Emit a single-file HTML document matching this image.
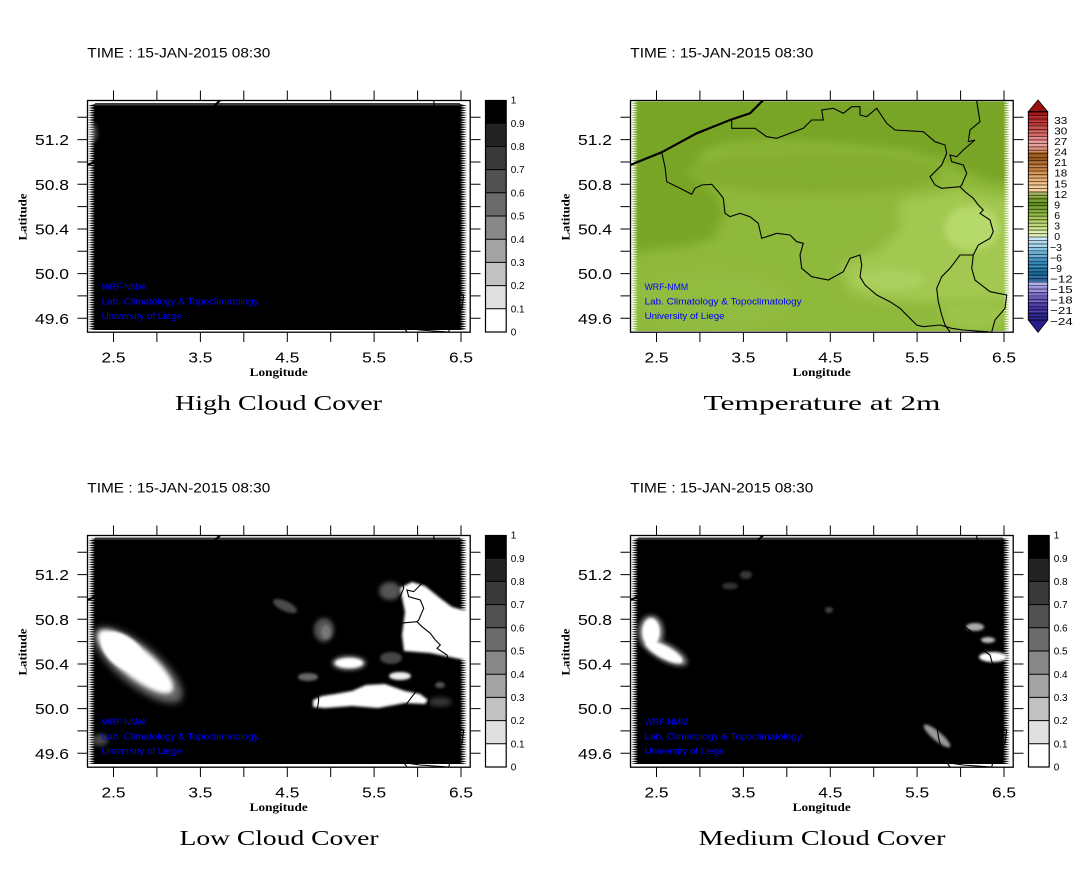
<!DOCTYPE html>
<html><head><meta charset="utf-8"><style>
html,body{margin:0;padding:0;background:#fff;}
svg{display:block;}
</style></head><body>
<svg width="1087" height="869" viewBox="0 0 1087 869" xmlns="http://www.w3.org/2000/svg" xmlns:xlink="http://www.w3.org/1999/xlink">
<defs>
  <pattern id="tL" x="88" y="0" width="7" height="2.4" patternUnits="userSpaceOnUse"><polygon points="0,0 7,1.2 0,2.4" fill="#fff"/></pattern>
  <pattern id="tR" x="460" y="0" width="7" height="2.4" patternUnits="userSpaceOnUse"><polygon points="7,0 0,1.2 7,2.4" fill="#fff"/></pattern>
  <pattern id="cbl" x="0" y="111.7" width="40" height="3.47" patternUnits="userSpaceOnUse"><rect width="40" height="0.8" fill="#000" fill-opacity="0.7"/></pattern>
  <filter id="f1" x="-50%" y="-50%" width="200%" height="200%"><feGaussianBlur stdDeviation="1.2"/></filter>
  <filter id="f2" x="-50%" y="-50%" width="200%" height="200%"><feGaussianBlur stdDeviation="2"/></filter>
  <filter id="f3" x="-50%" y="-50%" width="200%" height="200%"><feGaussianBlur stdDeviation="3.5"/></filter>
  <filter id="f5" x="-50%" y="-50%" width="200%" height="200%"><feGaussianBlur stdDeviation="5"/></filter>
  <clipPath id="tclip"><rect x="631" y="101.5" width="379" height="229.5"/></clipPath>
  <clipPath id="c2clip"><rect x="88" y="538.5" width="379" height="225.5"/></clipPath>
  <clipPath id="c3clip"><rect x="631" y="538.5" width="379" height="225.5"/></clipPath>
  <clipPath id="fclip"><rect x="87.5" y="100.5" width="382.7" height="231.7"/></clipPath>
  <g id="borders" fill="none" stroke="#000">
    <path stroke-width="2.2" d="M86,165.5 L118.7,152.3 L153.7,133.3 L187,120 L207,113.3 L220.3,100 L222,98"/>
    <path stroke-width="1.1" d="M118.7,152.3 L122,166.7 L123.7,181.7 L137,188.3 L148.7,194.3 L152,188.3 L158.7,185 L168.7,184.3 L175.3,191.7 L180.3,198.3 L182,213.3 L187,216.7 L197,213.3 L207,216.7 L215.3,223.3 L218.7,238.3 L223.7,236.7 L233.7,233.3 L247,235 L253.7,241.7 L260.3,243.3 L257,255 L258.7,268.3 L268.7,276.7 L285.3,280 L300.3,271.7 L307,258.3 L317,255 L318.7,265 L317,276.7 L322,285 L333.7,295 L347,301.7 L357,308.3 L373.7,325 L380.3,326.7 L397,325 L408.7,328.3 L420,330 L448.7,332"/>
    <path stroke-width="1.1" d="M188.7,120 L188.7,128.3 L202,128.3 L212,128.3 L223.7,136.7 L233.7,138.3 L260.3,128.3 L268.7,120 L280.3,120 L278.7,110 L290.3,108.3 L300.3,113.3 L308.7,106.7 L317,106.7 L317,115 L323.7,116.7 L333.7,108.3 L343.7,123.3 L352,130 L380.3,131.7 L392,141.7 L402,145 L403.7,153.3 L398.7,165 L387,176.7 L392,185 L398.7,188.3 L417,186.7 L422,191.7 L430.3,198.3 L435.3,205 L440.3,210 L437,213.3 L447,220 L450.3,231.7 L447,238.3 L435.3,245 L430.3,255 L428.7,268.3 L432,280 L447,291.7 L463.7,295 L462,308.3 L452,320 L448.7,332"/>
    <path stroke-width="1.1" d="M432,98 L433.7,101 L437,121.7 L427,130 L425.3,141.7 L432,140 L420.3,150 L413.7,156.7 L407,155 L408.7,161.7 L420.3,165 L423.7,173.3 L418.7,185 L417,186.7"/>
    <path stroke-width="1.1" d="M430.3,255 L417,255 L407,268.3 L398.7,276.7 L393.7,288.3 L395.3,301.7 L398.7,315 L402,325 L407,332"/>
  </g>
</defs>

<!-- ============ FIELDS ============ -->
<rect x="88" y="104" width="379" height="226" fill="#000"/>
<rect x="95" y="103" width="365" height="2.5" fill="#3a3a3a"/>
<ellipse cx="93" cy="133" rx="4" ry="9" fill="#555" filter="url(#f2)"/>

<g clip-path="url(#tclip)">
  <rect x="631" y="101.5" width="379" height="229.5" fill="#8fb93c"/>
  <polygon fill="#79a525" filter="url(#f5)" points="620,95 1020,95 1020,185 985,180 960,170 940,160 900,150 860,146 800,142 760,142 720,146 702,152 698,175 718,195 724,215 714,238 690,246 650,250 620,255"/>
  <ellipse cx="815" cy="172" rx="130" ry="22" fill="#83ad2d" filter="url(#f5)"/>
  <ellipse cx="760" cy="150" rx="40" ry="8" fill="#88b232" filter="url(#f3)"/>
  <ellipse cx="710" cy="300" rx="80" ry="30" fill="#92bc40" filter="url(#f5)"/>
  <polygon fill="#a2c851" filter="url(#f5)" points="900,200 960,190 1015,200 1015,300 960,302 930,302 880,300 850,292 840,265 880,250 900,230"/>
  <ellipse cx="972" cy="228" rx="28" ry="22" fill="#b6d96c" filter="url(#f3)"/>
  <ellipse cx="890" cy="280" rx="35" ry="10" fill="#acd05e" filter="url(#f3)"/>
  <ellipse cx="975" cy="315" rx="35" ry="15" fill="#9cc44a" filter="url(#f5)"/>
</g>

<rect x="88" y="538.5" width="379" height="225.5" fill="#000"/>
<rect x="95" y="537.5" width="365" height="2.5" fill="#333"/>
<g clip-path="url(#c2clip)">
  <g transform="rotate(39,138,665)">
    <ellipse cx="138" cy="665" rx="55" ry="20" fill="#666" filter="url(#f3)"/>
    <ellipse cx="134" cy="664" rx="47" ry="15" fill="#fff" filter="url(#f2)"/>
    <ellipse cx="118" cy="664" rx="25" ry="15" fill="#fff" filter="url(#f1)"/>
  </g>
  <ellipse cx="390" cy="591" rx="11" ry="9" fill="#555" filter="url(#f2)"/>
  <polygon fill="#fff" filter="url(#f1)" points="400,588 412,582 425,586 440,598 452,607 470,612 470,661 450,657 430,653 404,651 402,635 405,612"/>
  <polygon fill="#fff" filter="url(#f1)" points="313,700 322,696 335,694 352,691 366,685 385,684 405,691 420,694 428,700 425,704 405,703 378,708 352,706 325,708 313,707"/>
  <ellipse cx="349" cy="663" rx="17" ry="7" fill="#888" filter="url(#f2)"/>
  <ellipse cx="349" cy="663" rx="14" ry="5" fill="#fff" filter="url(#f1)"/>
  <ellipse cx="400" cy="676" rx="11" ry="4" fill="#eee" filter="url(#f1)"/>
  <ellipse cx="285" cy="606" rx="13" ry="5" transform="rotate(25,285,606)" fill="#4a4a4a" filter="url(#f1)"/>
  <ellipse cx="324" cy="630" rx="10" ry="12" fill="#555" filter="url(#f2)"/>
  <ellipse cx="326" cy="632" rx="5" ry="7" fill="#777" filter="url(#f1)"/>
  <ellipse cx="308" cy="677" rx="10" ry="4" fill="#666" filter="url(#f1)"/>
  <ellipse cx="391" cy="658" rx="11" ry="6" fill="#444" filter="url(#f1)"/>
  <ellipse cx="440" cy="685" rx="5" ry="3" fill="#555" filter="url(#f1)"/>
  <ellipse cx="440" cy="702" rx="12" ry="5" fill="#333" filter="url(#f2)"/>
  <ellipse cx="100" cy="740" rx="8" ry="6" fill="#444" filter="url(#f2)"/>
</g>

<rect x="631" y="538.5" width="379" height="225.5" fill="#000"/>
<rect x="638" y="537.5" width="365" height="2.5" fill="#333"/>
<g clip-path="url(#c3clip)">
  <ellipse cx="651" cy="632" rx="13" ry="17" fill="#777" filter="url(#f2)"/>
  <ellipse cx="665" cy="652" rx="25" ry="9" transform="rotate(28,665,652)" fill="#777" filter="url(#f2)"/>
  <ellipse cx="651" cy="632" rx="9" ry="14" fill="#fff" filter="url(#f1)"/>
  <ellipse cx="664" cy="652" rx="21" ry="6.5" transform="rotate(28,664,652)" fill="#fff" filter="url(#f1)"/>
  <ellipse cx="975" cy="627" rx="9" ry="4" fill="#aaa" filter="url(#f1)"/>
  <ellipse cx="988" cy="640" rx="7" ry="3" fill="#bbb" filter="url(#f1)"/>
  <ellipse cx="993" cy="657" rx="14" ry="5" fill="#fff" filter="url(#f1)"/>
  <ellipse cx="937" cy="736" rx="17" ry="4.5" transform="rotate(40,937,736)" fill="#999" filter="url(#f1)"/>
  <ellipse cx="730" cy="586" rx="8" ry="3.5" fill="#333" filter="url(#f1)"/>
  <ellipse cx="746" cy="575" rx="6" ry="4" fill="#383838" filter="url(#f1)"/>
  <ellipse cx="829" cy="610" rx="4" ry="3" fill="#444" filter="url(#f1)"/>
</g>

<!-- ============ PANEL EDGES & BORDERS ============ -->
<g transform="translate(0,0)">
  <rect x="88" y="104" width="7" height="226" fill="url(#tL)"/>
  <rect x="460" y="104" width="7" height="226" fill="url(#tR)"/>
  <g clip-path="url(#fclip)"><use xlink:href="#borders"/></g>
</g>
<g transform="translate(543,0)">
  <rect x="88" y="101.5" width="6.5" height="229.5" fill="url(#tL)"/>
  <rect x="461" y="101.5" width="6" height="229.5" fill="url(#tR)"/>
  <g clip-path="url(#fclip)"><use xlink:href="#borders"/></g>
</g>
<g transform="translate(0,435)">
  <rect x="88" y="103.5" width="7" height="225.5" fill="url(#tL)"/>
  <rect x="460" y="103.5" width="7" height="225.5" fill="url(#tR)"/>
  <g clip-path="url(#fclip)"><use xlink:href="#borders"/></g>
</g>
<g transform="translate(543,435)">
  <rect x="88" y="103.5" width="7" height="225.5" fill="url(#tL)"/>
  <rect x="460" y="103.5" width="7" height="225.5" fill="url(#tR)"/>
  <g clip-path="url(#fclip)"><use xlink:href="#borders"/></g>
</g>

<!-- Axes -->
<g transform="translate(0,0)">
  <rect x="87.5" y="100.5" width="382.7" height="231.7" fill="none" stroke="#000" stroke-width="1.3"/>
  <path stroke="#000" stroke-width="1" fill="none" d="M113.5 90.5V100 M156.9 90.5V100 M200.4 90.5V100 M243.8 90.5V100 M287.3 90.5V100 M330.7 90.5V100 M374.1 90.5V100 M417.6 90.5V100 M461 90.5V100 M113.5 332.5V342 M156.9 332.5V342 M200.4 332.5V342 M243.8 332.5V342 M287.3 332.5V342 M330.7 332.5V342 M374.1 332.5V342 M417.6 332.5V342 M461 332.5V342 M77.5 117.3H87 M77.5 139.6H87 M77.5 162H87 M77.5 184.3H87 M77.5 206.6H87 M77.5 229H87 M77.5 251.3H87 M77.5 273.6H87 M77.5 295.9H87 M77.5 318.3H87 M470.5 117.3H480.5 M470.5 139.6H480.5 M470.5 162H480.5 M470.5 184.3H480.5 M470.5 206.6H480.5 M470.5 229H480.5 M470.5 251.3H480.5 M470.5 273.6H480.5 M470.5 295.9H480.5 M470.5 318.3H480.5"/>
  <text x="87.3" y="57.3" font-family="'Liberation Sans', sans-serif" font-size="14" textLength="183" lengthAdjust="spacingAndGlyphs">TIME : 15-JAN-2015 08:30</text>
  <g font-family="'Liberation Sans', sans-serif" font-size="15" fill="#000" text-anchor="end">
    <text x="69" y="145.2" textLength="34" lengthAdjust="spacingAndGlyphs">51.2</text>
    <text x="69" y="189.9" textLength="34" lengthAdjust="spacingAndGlyphs">50.8</text>
    <text x="69" y="234.6" textLength="34" lengthAdjust="spacingAndGlyphs">50.4</text>
    <text x="69" y="279.2" textLength="34" lengthAdjust="spacingAndGlyphs">50.0</text>
    <text x="69" y="323.9" textLength="34" lengthAdjust="spacingAndGlyphs">49.6</text>
  </g>
  <g font-family="'Liberation Sans', sans-serif" font-size="15" fill="#000" text-anchor="middle">
    <text x="113.5" y="362.7" textLength="24" lengthAdjust="spacingAndGlyphs">2.5</text>
    <text x="200.4" y="362.7" textLength="24" lengthAdjust="spacingAndGlyphs">3.5</text>
    <text x="287.3" y="362.7" textLength="24" lengthAdjust="spacingAndGlyphs">4.5</text>
    <text x="374.1" y="362.7" textLength="24" lengthAdjust="spacingAndGlyphs">5.5</text>
    <text x="461" y="362.7" textLength="24" lengthAdjust="spacingAndGlyphs">6.5</text>
  </g>
  <g font-family="'Liberation Serif', serif" font-size="12" font-weight="bold" fill="#000" text-anchor="middle">
    <text x="278.7" y="376" textLength="58" lengthAdjust="spacingAndGlyphs">Longitude</text>
    <text transform="translate(26.5,217) rotate(-90)" x="0" y="0" textLength="47" lengthAdjust="spacingAndGlyphs">Latitude</text>
  </g>
  <g font-family="'Liberation Sans', sans-serif" font-size="9.5" fill="#0000ff">
    <text x="101.6" y="290" textLength="43.5" lengthAdjust="spacingAndGlyphs">WRF-NMM</text>
    <text x="101.6" y="304.3" textLength="157" lengthAdjust="spacingAndGlyphs">Lab. Climatology &amp; Topoclimatology</text>
    <text x="101.6" y="319" textLength="80" lengthAdjust="spacingAndGlyphs">University of Liege</text>
  </g>
</g>

<g transform="translate(543,0)">
  <rect x="87.5" y="100.5" width="382.7" height="231.7" fill="none" stroke="#000" stroke-width="1.3"/>
  <path stroke="#000" stroke-width="1" fill="none" d="M113.5 90.5V100 M156.9 90.5V100 M200.4 90.5V100 M243.8 90.5V100 M287.3 90.5V100 M330.7 90.5V100 M374.1 90.5V100 M417.6 90.5V100 M461 90.5V100 M113.5 332.5V342 M156.9 332.5V342 M200.4 332.5V342 M243.8 332.5V342 M287.3 332.5V342 M330.7 332.5V342 M374.1 332.5V342 M417.6 332.5V342 M461 332.5V342 M77.5 117.3H87 M77.5 139.6H87 M77.5 162H87 M77.5 184.3H87 M77.5 206.6H87 M77.5 229H87 M77.5 251.3H87 M77.5 273.6H87 M77.5 295.9H87 M77.5 318.3H87 M470.5 117.3H480.5 M470.5 139.6H480.5 M470.5 162H480.5 M470.5 184.3H480.5 M470.5 206.6H480.5 M470.5 229H480.5 M470.5 251.3H480.5 M470.5 273.6H480.5 M470.5 295.9H480.5 M470.5 318.3H480.5"/>
  <text x="87.3" y="57.3" font-family="'Liberation Sans', sans-serif" font-size="14" textLength="183" lengthAdjust="spacingAndGlyphs">TIME : 15-JAN-2015 08:30</text>
  <g font-family="'Liberation Sans', sans-serif" font-size="15" fill="#000" text-anchor="end">
    <text x="69" y="145.2" textLength="34" lengthAdjust="spacingAndGlyphs">51.2</text>
    <text x="69" y="189.9" textLength="34" lengthAdjust="spacingAndGlyphs">50.8</text>
    <text x="69" y="234.6" textLength="34" lengthAdjust="spacingAndGlyphs">50.4</text>
    <text x="69" y="279.2" textLength="34" lengthAdjust="spacingAndGlyphs">50.0</text>
    <text x="69" y="323.9" textLength="34" lengthAdjust="spacingAndGlyphs">49.6</text>
  </g>
  <g font-family="'Liberation Sans', sans-serif" font-size="15" fill="#000" text-anchor="middle">
    <text x="113.5" y="362.7" textLength="24" lengthAdjust="spacingAndGlyphs">2.5</text>
    <text x="200.4" y="362.7" textLength="24" lengthAdjust="spacingAndGlyphs">3.5</text>
    <text x="287.3" y="362.7" textLength="24" lengthAdjust="spacingAndGlyphs">4.5</text>
    <text x="374.1" y="362.7" textLength="24" lengthAdjust="spacingAndGlyphs">5.5</text>
    <text x="461" y="362.7" textLength="24" lengthAdjust="spacingAndGlyphs">6.5</text>
  </g>
  <g font-family="'Liberation Serif', serif" font-size="12" font-weight="bold" fill="#000" text-anchor="middle">
    <text x="278.7" y="376" textLength="58" lengthAdjust="spacingAndGlyphs">Longitude</text>
    <text transform="translate(26.5,217) rotate(-90)" x="0" y="0" textLength="47" lengthAdjust="spacingAndGlyphs">Latitude</text>
  </g>
  <g font-family="'Liberation Sans', sans-serif" font-size="9.5" fill="#0000ff">
    <text x="101.6" y="290" textLength="43.5" lengthAdjust="spacingAndGlyphs">WRF-NMM</text>
    <text x="101.6" y="304.3" textLength="157" lengthAdjust="spacingAndGlyphs">Lab. Climatology &amp; Topoclimatology</text>
    <text x="101.6" y="319" textLength="80" lengthAdjust="spacingAndGlyphs">University of Liege</text>
  </g>
</g>

<g transform="translate(0,435)">
  <rect x="87.5" y="100.5" width="382.7" height="231.7" fill="none" stroke="#000" stroke-width="1.3"/>
  <path stroke="#000" stroke-width="1" fill="none" d="M113.5 90.5V100 M156.9 90.5V100 M200.4 90.5V100 M243.8 90.5V100 M287.3 90.5V100 M330.7 90.5V100 M374.1 90.5V100 M417.6 90.5V100 M461 90.5V100 M113.5 332.5V342 M156.9 332.5V342 M200.4 332.5V342 M243.8 332.5V342 M287.3 332.5V342 M330.7 332.5V342 M374.1 332.5V342 M417.6 332.5V342 M461 332.5V342 M77.5 117.3H87 M77.5 139.6H87 M77.5 162H87 M77.5 184.3H87 M77.5 206.6H87 M77.5 229H87 M77.5 251.3H87 M77.5 273.6H87 M77.5 295.9H87 M77.5 318.3H87 M470.5 117.3H480.5 M470.5 139.6H480.5 M470.5 162H480.5 M470.5 184.3H480.5 M470.5 206.6H480.5 M470.5 229H480.5 M470.5 251.3H480.5 M470.5 273.6H480.5 M470.5 295.9H480.5 M470.5 318.3H480.5"/>
  <text x="87.3" y="57.3" font-family="'Liberation Sans', sans-serif" font-size="14" textLength="183" lengthAdjust="spacingAndGlyphs">TIME : 15-JAN-2015 08:30</text>
  <g font-family="'Liberation Sans', sans-serif" font-size="15" fill="#000" text-anchor="end">
    <text x="69" y="145.2" textLength="34" lengthAdjust="spacingAndGlyphs">51.2</text>
    <text x="69" y="189.9" textLength="34" lengthAdjust="spacingAndGlyphs">50.8</text>
    <text x="69" y="234.6" textLength="34" lengthAdjust="spacingAndGlyphs">50.4</text>
    <text x="69" y="279.2" textLength="34" lengthAdjust="spacingAndGlyphs">50.0</text>
    <text x="69" y="323.9" textLength="34" lengthAdjust="spacingAndGlyphs">49.6</text>
  </g>
  <g font-family="'Liberation Sans', sans-serif" font-size="15" fill="#000" text-anchor="middle">
    <text x="113.5" y="362.7" textLength="24" lengthAdjust="spacingAndGlyphs">2.5</text>
    <text x="200.4" y="362.7" textLength="24" lengthAdjust="spacingAndGlyphs">3.5</text>
    <text x="287.3" y="362.7" textLength="24" lengthAdjust="spacingAndGlyphs">4.5</text>
    <text x="374.1" y="362.7" textLength="24" lengthAdjust="spacingAndGlyphs">5.5</text>
    <text x="461" y="362.7" textLength="24" lengthAdjust="spacingAndGlyphs">6.5</text>
  </g>
  <g font-family="'Liberation Serif', serif" font-size="12" font-weight="bold" fill="#000" text-anchor="middle">
    <text x="278.7" y="376" textLength="58" lengthAdjust="spacingAndGlyphs">Longitude</text>
    <text transform="translate(26.5,217) rotate(-90)" x="0" y="0" textLength="47" lengthAdjust="spacingAndGlyphs">Latitude</text>
  </g>
  <g font-family="'Liberation Sans', sans-serif" font-size="9.5" fill="#0000ff">
    <text x="101.6" y="290" textLength="43.5" lengthAdjust="spacingAndGlyphs">WRF-NMM</text>
    <text x="101.6" y="304.3" textLength="157" lengthAdjust="spacingAndGlyphs">Lab. Climatology &amp; Topoclimatology</text>
    <text x="101.6" y="319" textLength="80" lengthAdjust="spacingAndGlyphs">University of Liege</text>
  </g>
</g>

<g transform="translate(543,435)">
  <rect x="87.5" y="100.5" width="382.7" height="231.7" fill="none" stroke="#000" stroke-width="1.3"/>
  <path stroke="#000" stroke-width="1" fill="none" d="M113.5 90.5V100 M156.9 90.5V100 M200.4 90.5V100 M243.8 90.5V100 M287.3 90.5V100 M330.7 90.5V100 M374.1 90.5V100 M417.6 90.5V100 M461 90.5V100 M113.5 332.5V342 M156.9 332.5V342 M200.4 332.5V342 M243.8 332.5V342 M287.3 332.5V342 M330.7 332.5V342 M374.1 332.5V342 M417.6 332.5V342 M461 332.5V342 M77.5 117.3H87 M77.5 139.6H87 M77.5 162H87 M77.5 184.3H87 M77.5 206.6H87 M77.5 229H87 M77.5 251.3H87 M77.5 273.6H87 M77.5 295.9H87 M77.5 318.3H87 M470.5 117.3H480.5 M470.5 139.6H480.5 M470.5 162H480.5 M470.5 184.3H480.5 M470.5 206.6H480.5 M470.5 229H480.5 M470.5 251.3H480.5 M470.5 273.6H480.5 M470.5 295.9H480.5 M470.5 318.3H480.5"/>
  <text x="87.3" y="57.3" font-family="'Liberation Sans', sans-serif" font-size="14" textLength="183" lengthAdjust="spacingAndGlyphs">TIME : 15-JAN-2015 08:30</text>
  <g font-family="'Liberation Sans', sans-serif" font-size="15" fill="#000" text-anchor="end">
    <text x="69" y="145.2" textLength="34" lengthAdjust="spacingAndGlyphs">51.2</text>
    <text x="69" y="189.9" textLength="34" lengthAdjust="spacingAndGlyphs">50.8</text>
    <text x="69" y="234.6" textLength="34" lengthAdjust="spacingAndGlyphs">50.4</text>
    <text x="69" y="279.2" textLength="34" lengthAdjust="spacingAndGlyphs">50.0</text>
    <text x="69" y="323.9" textLength="34" lengthAdjust="spacingAndGlyphs">49.6</text>
  </g>
  <g font-family="'Liberation Sans', sans-serif" font-size="15" fill="#000" text-anchor="middle">
    <text x="113.5" y="362.7" textLength="24" lengthAdjust="spacingAndGlyphs">2.5</text>
    <text x="200.4" y="362.7" textLength="24" lengthAdjust="spacingAndGlyphs">3.5</text>
    <text x="287.3" y="362.7" textLength="24" lengthAdjust="spacingAndGlyphs">4.5</text>
    <text x="374.1" y="362.7" textLength="24" lengthAdjust="spacingAndGlyphs">5.5</text>
    <text x="461" y="362.7" textLength="24" lengthAdjust="spacingAndGlyphs">6.5</text>
  </g>
  <g font-family="'Liberation Serif', serif" font-size="12" font-weight="bold" fill="#000" text-anchor="middle">
    <text x="278.7" y="376" textLength="58" lengthAdjust="spacingAndGlyphs">Longitude</text>
    <text transform="translate(26.5,217) rotate(-90)" x="0" y="0" textLength="47" lengthAdjust="spacingAndGlyphs">Latitude</text>
  </g>
  <g font-family="'Liberation Sans', sans-serif" font-size="9.5" fill="#0000ff">
    <text x="101.6" y="290" textLength="43.5" lengthAdjust="spacingAndGlyphs">WRF-NMM</text>
    <text x="101.6" y="304.3" textLength="157" lengthAdjust="spacingAndGlyphs">Lab. Climatology &amp; Topoclimatology</text>
    <text x="101.6" y="319" textLength="80" lengthAdjust="spacingAndGlyphs">University of Liege</text>
  </g>
</g>

<!-- Titles -->
<g font-family="'Liberation Serif', serif" font-size="21" fill="#000" text-anchor="middle">
  <text x="278.5" y="410" textLength="207" lengthAdjust="spacingAndGlyphs">High Cloud Cover</text>
  <text x="822" y="410" textLength="237" lengthAdjust="spacingAndGlyphs">Temperature at 2m</text>
  <text x="279" y="845" textLength="199" lengthAdjust="spacingAndGlyphs">Low Cloud Cover</text>
  <text x="822" y="845" textLength="247" lengthAdjust="spacingAndGlyphs">Medium Cloud Cover</text>
</g>

<!-- Gray colorbars -->
<g>
  <rect x="485.5" y="100" width="20.7" height="23.2" fill="#000"/>
  <rect x="485.5" y="123.2" width="20.7" height="23.2" fill="#232323"/>
  <rect x="485.5" y="146.4" width="20.7" height="23.2" fill="#393939"/>
  <rect x="485.5" y="169.6" width="20.7" height="23.2" fill="#515151"/>
  <rect x="485.5" y="192.8" width="20.7" height="23.2" fill="#6b6b6b"/>
  <rect x="485.5" y="216" width="20.7" height="23.2" fill="#888"/>
  <rect x="485.5" y="239.2" width="20.7" height="23.2" fill="#a3a3a3"/>
  <rect x="485.5" y="262.4" width="20.7" height="23.2" fill="#c2c2c2"/>
  <rect x="485.5" y="285.6" width="20.7" height="23.2" fill="#e0e0e0"/>
  <rect x="485.5" y="308.8" width="20.7" height="23.2" fill="#fff"/>
  <path stroke="#000" stroke-width="1" fill="none" d="M485.5 123.2H506.2 M485.5 146.4H506.2 M485.5 169.6H506.2 M485.5 192.8H506.2 M485.5 216H506.2 M485.5 239.2H506.2 M485.5 262.4H506.2 M485.5 285.6H506.2 M485.5 308.8H506.2"/>
  <rect x="485.5" y="100.5" width="20.7" height="231.5" fill="none" stroke="#000" stroke-width="1.2"/>
  <g font-family="'Liberation Sans', sans-serif" font-size="10" fill="#000">
    <text x="510.7" y="103.6">1</text>
    <text x="510.7" y="126.8">0.9</text>
    <text x="510.7" y="150">0.8</text>
    <text x="510.7" y="173.2">0.7</text>
    <text x="510.7" y="196.4">0.6</text>
    <text x="510.7" y="219.6">0.5</text>
    <text x="510.7" y="242.8">0.4</text>
    <text x="510.7" y="266">0.3</text>
    <text x="510.7" y="289.2">0.2</text>
    <text x="510.7" y="312.4">0.1</text>
    <text x="510.7" y="335.6">0</text>
  </g>
</g>
<g transform="translate(0,435)">
  <rect x="485.5" y="100" width="20.7" height="23.2" fill="#000"/>
  <rect x="485.5" y="123.2" width="20.7" height="23.2" fill="#232323"/>
  <rect x="485.5" y="146.4" width="20.7" height="23.2" fill="#393939"/>
  <rect x="485.5" y="169.6" width="20.7" height="23.2" fill="#515151"/>
  <rect x="485.5" y="192.8" width="20.7" height="23.2" fill="#6b6b6b"/>
  <rect x="485.5" y="216" width="20.7" height="23.2" fill="#888"/>
  <rect x="485.5" y="239.2" width="20.7" height="23.2" fill="#a3a3a3"/>
  <rect x="485.5" y="262.4" width="20.7" height="23.2" fill="#c2c2c2"/>
  <rect x="485.5" y="285.6" width="20.7" height="23.2" fill="#e0e0e0"/>
  <rect x="485.5" y="308.8" width="20.7" height="23.2" fill="#fff"/>
  <path stroke="#000" stroke-width="1" fill="none" d="M485.5 123.2H506.2 M485.5 146.4H506.2 M485.5 169.6H506.2 M485.5 192.8H506.2 M485.5 216H506.2 M485.5 239.2H506.2 M485.5 262.4H506.2 M485.5 285.6H506.2 M485.5 308.8H506.2"/>
  <rect x="485.5" y="100.5" width="20.7" height="231.5" fill="none" stroke="#000" stroke-width="1.2"/>
  <g font-family="'Liberation Sans', sans-serif" font-size="10" fill="#000">
    <text x="510.7" y="103.6">1</text>
    <text x="510.7" y="126.8">0.9</text>
    <text x="510.7" y="150">0.8</text>
    <text x="510.7" y="173.2">0.7</text>
    <text x="510.7" y="196.4">0.6</text>
    <text x="510.7" y="219.6">0.5</text>
    <text x="510.7" y="242.8">0.4</text>
    <text x="510.7" y="266">0.3</text>
    <text x="510.7" y="289.2">0.2</text>
    <text x="510.7" y="312.4">0.1</text>
    <text x="510.7" y="335.6">0</text>
  </g>
</g>
<g transform="translate(543,435)">
  <rect x="485.5" y="100" width="20.7" height="23.2" fill="#000"/>
  <rect x="485.5" y="123.2" width="20.7" height="23.2" fill="#232323"/>
  <rect x="485.5" y="146.4" width="20.7" height="23.2" fill="#393939"/>
  <rect x="485.5" y="169.6" width="20.7" height="23.2" fill="#515151"/>
  <rect x="485.5" y="192.8" width="20.7" height="23.2" fill="#6b6b6b"/>
  <rect x="485.5" y="216" width="20.7" height="23.2" fill="#888"/>
  <rect x="485.5" y="239.2" width="20.7" height="23.2" fill="#a3a3a3"/>
  <rect x="485.5" y="262.4" width="20.7" height="23.2" fill="#c2c2c2"/>
  <rect x="485.5" y="285.6" width="20.7" height="23.2" fill="#e0e0e0"/>
  <rect x="485.5" y="308.8" width="20.7" height="23.2" fill="#fff"/>
  <path stroke="#000" stroke-width="1" fill="none" d="M485.5 123.2H506.2 M485.5 146.4H506.2 M485.5 169.6H506.2 M485.5 192.8H506.2 M485.5 216H506.2 M485.5 239.2H506.2 M485.5 262.4H506.2 M485.5 285.6H506.2 M485.5 308.8H506.2"/>
  <rect x="485.5" y="100.5" width="20.7" height="231.5" fill="none" stroke="#000" stroke-width="1.2"/>
  <g font-family="'Liberation Sans', sans-serif" font-size="10" fill="#000">
    <text x="510.7" y="103.6">1</text>
    <text x="510.7" y="126.8">0.9</text>
    <text x="510.7" y="150">0.8</text>
    <text x="510.7" y="173.2">0.7</text>
    <text x="510.7" y="196.4">0.6</text>
    <text x="510.7" y="219.6">0.5</text>
    <text x="510.7" y="242.8">0.4</text>
    <text x="510.7" y="266">0.3</text>
    <text x="510.7" y="289.2">0.2</text>
    <text x="510.7" y="312.4">0.1</text>
    <text x="510.7" y="335.6">0</text>
  </g>
</g>

<!-- Temperature colorbar -->
<g>
  <polygon points="1028.3,111.7 1038,100 1047.7,111.7" fill="#9b1010" stroke="#000" stroke-width="0.8"/>
  <polygon points="1028.3,320 1038,332.3 1047.7,320" fill="#281c90" stroke="#000" stroke-width="0.8"/>
  <g>
    <rect x="1028.3" y="111.7" width="19.4" height="5" fill="#a81818"/>
    <rect x="1028.3" y="116.7" width="19.4" height="5" fill="#b82828"/>
    <rect x="1028.3" y="121.7" width="19.4" height="5" fill="#c03838"/>
    <rect x="1028.3" y="126.7" width="19.4" height="5" fill="#cc5050"/>
    <rect x="1028.3" y="131.7" width="19.4" height="5" fill="#d86868"/>
    <rect x="1028.3" y="136.7" width="19.4" height="5" fill="#e88888"/>
    <rect x="1028.3" y="141.7" width="19.4" height="5" fill="#f0a0a0"/>
    <rect x="1028.3" y="146.7" width="19.4" height="5" fill="#e09078"/>
    <rect x="1028.3" y="151.7" width="19.4" height="5" fill="#a86020"/>
    <rect x="1028.3" y="156.7" width="19.4" height="5" fill="#a05818"/>
    <rect x="1028.3" y="161.7" width="19.4" height="5" fill="#b87030"/>
    <rect x="1028.3" y="166.7" width="19.4" height="5" fill="#c88040"/>
    <rect x="1028.3" y="171.7" width="19.4" height="5" fill="#d89858"/>
    <rect x="1028.3" y="176.7" width="19.4" height="5" fill="#e8b070"/>
    <rect x="1028.3" y="181.7" width="19.4" height="5" fill="#f0c088"/>
    <rect x="1028.3" y="186.7" width="19.4" height="5" fill="#f8d0a0"/>
    <rect x="1028.3" y="191.7" width="19.4" height="5" fill="#a0b060"/>
    <rect x="1028.3" y="196.7" width="19.4" height="5" fill="#78a028"/>
    <rect x="1028.3" y="201.7" width="19.4" height="5" fill="#609018"/>
    <rect x="1028.3" y="206.7" width="19.4" height="5" fill="#78a830"/>
    <rect x="1028.3" y="211.7" width="19.4" height="5" fill="#90b840"/>
    <rect x="1028.3" y="216.7" width="19.4" height="5" fill="#a8c858"/>
    <rect x="1028.3" y="221.7" width="19.4" height="5" fill="#c0d878"/>
    <rect x="1028.3" y="226.7" width="19.4" height="5" fill="#d0e890"/>
    <rect x="1028.3" y="231.7" width="19.4" height="5" fill="#e0f0b0"/>
    <rect x="1028.3" y="236.7" width="19.4" height="5" fill="#c8e8f8"/>
    <rect x="1028.3" y="241.7" width="19.4" height="5" fill="#a8d8f0"/>
    <rect x="1028.3" y="246.7" width="19.4" height="5" fill="#88c8e8"/>
    <rect x="1028.3" y="251.7" width="19.4" height="5" fill="#68b0d8"/>
    <rect x="1028.3" y="256.7" width="19.4" height="5" fill="#4898c8"/>
    <rect x="1028.3" y="261.7" width="19.4" height="5" fill="#3088b8"/>
    <rect x="1028.3" y="266.7" width="19.4" height="5" fill="#2078a8"/>
    <rect x="1028.3" y="271.7" width="19.4" height="5" fill="#186898"/>
    <rect x="1028.3" y="276.7" width="19.4" height="5" fill="#2868a0"/>
    <rect x="1028.3" y="281.7" width="19.4" height="5" fill="#b0b0f0"/>
    <rect x="1028.3" y="286.7" width="19.4" height="5" fill="#9890e0"/>
    <rect x="1028.3" y="291.7" width="19.4" height="5" fill="#8070d0"/>
    <rect x="1028.3" y="296.7" width="19.4" height="5" fill="#6858c0"/>
    <rect x="1028.3" y="301.7" width="19.4" height="5" fill="#5040b0"/>
    <rect x="1028.3" y="306.7" width="19.4" height="5" fill="#4030a0"/>
    <rect x="1028.3" y="311.7" width="19.4" height="8.3" fill="#302890"/>
  </g>
  <rect x="1028.3" y="111.7" width="19.4" height="208.3" fill="url(#cbl)"/>
  <rect x="1028.3" y="111.7" width="19.4" height="208.3" fill="none" stroke="#000" stroke-width="0.9"/>
  <g font-family="'Liberation Sans', sans-serif" font-size="10.5" fill="#000">
    <text x="1054.3" y="123.8" textLength="13" lengthAdjust="spacingAndGlyphs">33</text>
    <text x="1054.3" y="134.4" textLength="13" lengthAdjust="spacingAndGlyphs">30</text>
    <text x="1054.3" y="145" textLength="13" lengthAdjust="spacingAndGlyphs">27</text>
    <text x="1054.3" y="155.5" textLength="13" lengthAdjust="spacingAndGlyphs">24</text>
    <text x="1054.3" y="166.1" textLength="13" lengthAdjust="spacingAndGlyphs">21</text>
    <text x="1054.3" y="176.7" textLength="13" lengthAdjust="spacingAndGlyphs">18</text>
    <text x="1054.3" y="187.3" textLength="13" lengthAdjust="spacingAndGlyphs">15</text>
    <text x="1054.3" y="197.9" textLength="13" lengthAdjust="spacingAndGlyphs">12</text>
    <text x="1054.3" y="208.4">9</text>
    <text x="1054.3" y="219">6</text>
    <text x="1054.3" y="229.6">3</text>
    <text x="1054.3" y="240.2">0</text>
    <text x="1050" y="250.8" textLength="12" lengthAdjust="spacingAndGlyphs">−3</text>
    <text x="1050" y="261.3" textLength="12" lengthAdjust="spacingAndGlyphs">−6</text>
    <text x="1050" y="271.9" textLength="12" lengthAdjust="spacingAndGlyphs">−9</text>
    <text x="1050" y="282.5" textLength="22.7" lengthAdjust="spacingAndGlyphs">−12</text>
    <text x="1050" y="293.1" textLength="22.7" lengthAdjust="spacingAndGlyphs">−15</text>
    <text x="1050" y="303.7" textLength="22.7" lengthAdjust="spacingAndGlyphs">−18</text>
    <text x="1050" y="314.2" textLength="22.7" lengthAdjust="spacingAndGlyphs">−21</text>
    <text x="1050" y="324.8" textLength="22.7" lengthAdjust="spacingAndGlyphs">−24</text>
  </g>
</g>
</svg>
</body></html>
